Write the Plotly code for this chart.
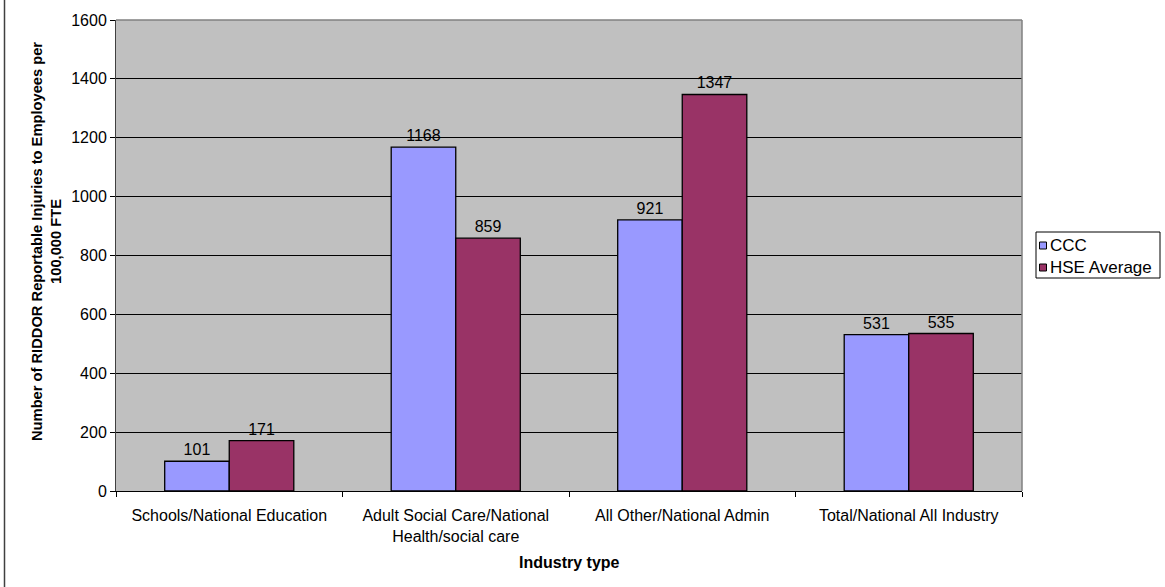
import plotly.graph_objects as go

categories = [
    "Schools/National Education",
    "Adult Social Care/National<br>Health/social care",
    "All Other/National Admin",
    "Total/National All Industry",
]
series_names = ["CCC", "HSE Average"]
ccc_values = [101, 1168, 921, 531]
hse_values = [171, 859, 1347, 535]
y_ticks = [0, 200, 400, 600, 800, 1000, 1200, 1400, 1600]
series_colors = ["#9999FF", "#993366"]

FONT = "Arial, Liberation Sans, sans-serif"

W, H = 1165, 587
L, R, T, B = 116, 1022, 20, 491  # plot area edges in pixels


def px_x(px):
    return (px - L) / (R - L)


def px_y(py):
    return (B - py) / (B - T)


fig = go.Figure()
for name, vals, col in zip(series_names, [ccc_values, hse_values], series_colors):
    fig.add_trace(go.Bar(
        name=name, x=categories, y=vals,
        marker=dict(color=col, line=dict(color="#000000", width=1.3)),
        text=vals, textposition="outside", cliponaxis=False,
        textfont=dict(family=FONT, size=16, color="#000000"),
    ))

shapes = [
    # plot area frame (top and right edges)
    dict(type="line", xref="paper", yref="paper", x0=0, x1=1, y0=1, y1=1,
         line=dict(color="#808080", width=1.5), layer="above"),
    dict(type="line", xref="paper", yref="paper", x0=1, x1=1, y0=0, y1=1,
         line=dict(color="#808080", width=1.5), layer="above"),
    # outer chart border on the left
    dict(type="line", xref="paper", yref="paper", x0=px_x(4.5), x1=px_x(4.5),
         y0=px_y(H + 5), y1=px_y(-5), line=dict(color="#404040", width=1.5)),
    # legend box
    dict(type="rect", xref="paper", yref="paper",
         x0=px_x(1036), x1=px_x(1160), y0=px_y(278), y1=px_y(232),
         line=dict(color="#000000", width=1), fillcolor="#FFFFFF"),
]

annotations = [
    dict(
        text="Number of RIDDOR Reportable Injuries to Employees per<br>100,000 FTE",
        xref="paper", yref="paper",
        x=px_x(46), y=px_y(242), xanchor="center", yanchor="middle",
        textangle=-90, showarrow=False,
        font=dict(family=FONT, size=14.7, color="#000000", weight="bold"),
    ),
    dict(
        text="Industry type",
        xref="paper", yref="paper",
        x=0.5, y=px_y(562), xanchor="center", yanchor="middle",
        showarrow=False,
        font=dict(family=FONT, size=16, color="#000000", weight="bold"),
    ),
]

# legend entries: colour key plus series name
for i, (name, col) in enumerate(zip(series_names, series_colors)):
    cy = 245.5 + 22 * i
    shapes.append(dict(
        type="rect", xref="paper", yref="paper",
        x0=px_x(1039.5), x1=px_x(1046.5), y0=px_y(cy + 3.5), y1=px_y(cy - 3.5),
        line=dict(color="#000000", width=1), fillcolor=col,
    ))
    annotations.append(dict(
        text=name, xref="paper", yref="paper",
        x=px_x(1047.5), y=px_y(cy), xanchor="left", yanchor="middle",
        showarrow=False,
        font=dict(family=FONT, size=17, color="#000000"),
    ))

fig.update_layout(
    width=W, height=H,
    margin=dict(l=L, r=W - R, t=T, b=H - B),
    paper_bgcolor="#FFFFFF",
    plot_bgcolor="#C0C0C0",
    barmode="group",
    bargap=0.43,
    bargroupgap=0,
    font=dict(family=FONT, size=16, color="#000000"),
    showlegend=False,
    xaxis=dict(
        type="category",
        showgrid=False, zeroline=False,
        showline=True, linecolor="#000000", linewidth=1,
        ticks="outside", ticklen=5, tickcolor="#000000",
        tickson="boundaries",
        ticklabelstandoff=10,
        tickfont=dict(family=FONT, size=16, color="#000000"),
    ),
    yaxis=dict(
        range=[0, 1600],
        tickvals=y_ticks,
        showgrid=True, gridcolor="#000000", gridwidth=1,
        zeroline=False,
        showline=True, linecolor="#404040", linewidth=1,
        ticks="outside", ticklen=5, tickcolor="#000000",
        tickfont=dict(family=FONT, size=16, color="#000000"),
    ),
    annotations=annotations,
    shapes=shapes,
)

fig.write_html("out.html")
